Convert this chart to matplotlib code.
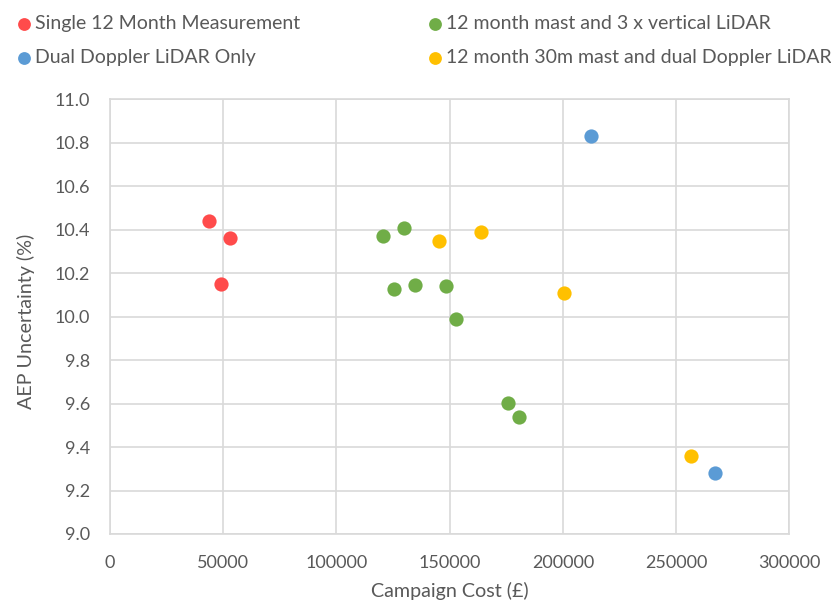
import matplotlib.pyplot as plt

plt.rcParams['font.family'] = ['Lato', 'DejaVu Sans']

# Campaign cost (GBP) and AEP uncertainty (%) for each campaign type
single_cost = [43950, 53100, 49000]
single_unc = [10.44, 10.363, 10.148]

dual_cost = [212400, 267300]
dual_unc = [10.83, 9.279]

mast_vert_cost = [120700, 130000, 125600, 134900, 148400, 153000, 175900, 180800]
mast_vert_unc = [10.371, 10.407, 10.128, 10.144, 10.139, 9.988, 9.601, 9.537]

mast_dual_cost = [145200, 163900, 200600, 256400]
mast_dual_unc = [10.348, 10.388, 10.11, 9.357]

series_labels = ['Single 12 Month Measurement', 'Dual Doppler LiDAR Only',
                 '12 month mast and 3 x vertical LiDAR',
                 '12 month 30m mast and dual Doppler LiDAR']
series_colors = ['#FF4B4B', '#5B9BD5', '#70AD47', '#FFC000']

x_ticks = [0, 50000, 100000, 150000, 200000, 250000, 300000]
y_ticks = [9.0, 9.2, 9.4, 9.6, 9.8, 10.0, 10.2, 10.4, 10.6, 10.8, 11.0]

text_col = '#595959'
grid_col = '#D9D9D9'

fig = plt.figure(figsize=(8.31, 6.02), dpi=100)
ax = fig.add_axes([0.132, 0.113, 0.818, 0.722])

data = [(single_cost, single_unc), (dual_cost, dual_unc),
        (mast_vert_cost, mast_vert_unc), (mast_dual_cost, mast_dual_unc)]
handles = []
for (xs, ys), lab, col in zip(data, series_labels, series_colors):
    h = ax.scatter(xs, ys, s=105, color=col, label=lab, zorder=3, linewidths=0)
    handles.append(h)

ax.set_xlim(0, 300000)
ax.set_ylim(9.0, 11.0)
ax.set_xticks(x_ticks)
ax.set_xticklabels([str(v) for v in x_ticks])
ax.set_yticks(y_ticks)
ax.set_yticklabels(['%.1f' % v for v in y_ticks])
ax.tick_params(length=0, labelsize=13, labelcolor=text_col)
ax.tick_params(axis='y', pad=14)
ax.tick_params(axis='x', pad=15)
ax.grid(True, color=grid_col, linewidth=1.2)
ax.set_axisbelow(True)
for sp in ax.spines.values():
    sp.set_color(grid_col)
    sp.set_linewidth(1.2)

ax.set_xlabel('Campaign Cost (£)', fontsize=14.2, color=text_col)
ax.set_ylabel('AEP Uncertainty (%)', fontsize=14.2, color=text_col)
ax.xaxis.set_label_coords(0.5, -0.11)
ax.yaxis.set_label_coords(-0.11, 0.49)

# legend laid out as two columns of two entries
leg_kw = dict(loc='upper left', frameon=False, fontsize=14, labelcolor=text_col,
              handlelength=0.7, handletextpad=0.25, markerscale=0.9,
              labelspacing=0.88, borderpad=0, borderaxespad=0)
fig.legend(handles=handles[:2], bbox_to_anchor=(17.0 / 831, 0.975), **leg_kw)
fig.legend(handles=handles[2:], bbox_to_anchor=(428.0 / 831, 0.975), **leg_kw)

fig.savefig('out.png', dpi=100)
